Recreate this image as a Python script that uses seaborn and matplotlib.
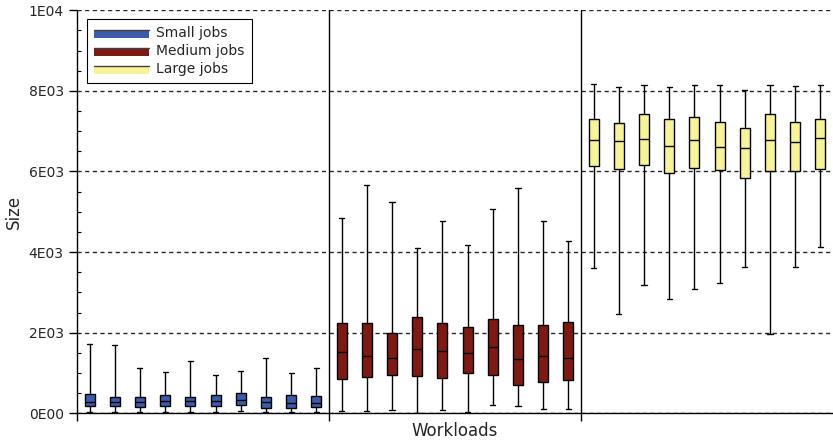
import numpy as np
import pandas as pd
import matplotlib
matplotlib.use("Agg")
import matplotlib.pyplot as plt
from matplotlib.ticker import FixedLocator, FuncFormatter
from matplotlib.legend_handler import HandlerBase
from matplotlib.patches import Rectangle
from matplotlib.lines import Line2D
import seaborn as sns

# Box statistics per workload: lower whisker, Q1, median, Q3, upper whisker
groups = ["Small jobs", "Medium jobs", "Large jobs"]
colors = ["#3b5bab", "#7e1a14", "#f6f39b"]

small_low = [25, 25, 25, 25, 25, 25, 50, 25, 25, 25]
small_q1 = [174, 174, 149, 174, 174, 181, 206, 140, 132, 165]
small_med = [288, 288, 288, 313, 313, 305, 330, 280, 263, 263]
small_q3 = [471, 412, 397, 461, 397, 447, 504, 397, 447, 422]
small_high = [1712, 1694, 1131, 1025, 1290, 943, 1049, 1365, 992, 1131]

medium_low = [65, 50, 82, 15, 82, 40, 214, 174, 99, 99]
medium_q1 = [859, 909, 943, 918, 876, 992, 950, 695, 777, 819]
medium_med = [1521, 1430, 1364, 1603, 1538, 1488, 1637, 1340, 1430, 1364]
medium_q3 = [2248, 2248, 1985, 2382, 2233, 2134, 2348, 2199, 2183, 2265]
medium_high = [4838, 5672, 5243, 4094, 4763, 4175, 5061, 5598, 4763, 4283]

large_low = [3613, 2471, 3191, 2843, 3076, 3241, 3638, 1967, 3622, 4118]
large_q1 = [6128, 6069, 6160, 5962, 6094, 6029, 5845, 6012, 6020, 6053]
large_med = [6773, 6756, 6798, 6624, 6781, 6607, 6575, 6781, 6723, 6823]
large_q3 = [7310, 7203, 7418, 7302, 7344, 7220, 7079, 7418, 7220, 7294]
large_high = [8162, 8096, 8153, 8088, 8153, 8153, 8029, 8137, 8121, 8137]

stats = [
    (small_low, small_q1, small_med, small_q3, small_high),
    (medium_low, medium_q1, medium_med, medium_q3, medium_high),
    (large_low, large_q1, large_med, large_q3, large_high),
]

# Five points per box reproduce min / quartiles / max exactly
rows = []
pos = 0
for name, cols in zip(groups, stats):
    for vals in zip(*cols):
        for v in vals:
            rows.append({"workload": pos, "size": v, "group": name})
        pos += 1
df = pd.DataFrame(rows)

sns.set_style("ticks")
plt.rcParams["font.family"] = ["DejaVu Sans"]

fig = plt.figure(figsize=(8.33, 4.43), dpi=100)
ax = fig.add_axes([0.0924, 0.067, 0.9076, 0.910])

sns.boxplot(
    data=df, x="workload", y="size", hue="group",
    hue_order=groups, palette=colors, saturation=1, width=0.4,
    whis=(0, 100), showfliers=False, linecolor="black",
    linewidth=1.0, legend=False, ax=ax, zorder=3,
)

ax.set_xlim(-0.5, 29.5)
ax.set_ylim(0, 10000)

# Group separators
for xb in (9.5, 19.5):
    ax.axvline(xb, color="black", lw=1.0, zorder=2)

ax.set_xticks([-0.5, 9.5, 19.5])
ax.set_xticklabels([])
ax.tick_params(axis="x", direction="out", length=6, width=1, color="black")

def sci_label(v, _):
    if v == 0:
        return "0E00"
    e = int(np.floor(np.log10(abs(v))))
    m = int(round(v / 10 ** e))
    return f"{m}E{e:02d}"

ax.yaxis.set_major_locator(FixedLocator(np.arange(0, 10001, 2000)))
ax.yaxis.set_minor_locator(FixedLocator(np.arange(0, 10001, 500)))
ax.yaxis.set_major_formatter(FuncFormatter(sci_label))
ax.tick_params(axis="y", which="major", direction="out", length=6, width=1,
               labelsize=10, color="black")
ax.tick_params(axis="y", which="minor", direction="in", length=3, width=0.8,
               color="black")

ax.yaxis.grid(True, which="major", color="0.15", lw=1.0,
              linestyle=(0, (3, 2.5)), zorder=1)
ax.set_axisbelow(True)

for s in ("top", "right"):
    ax.spines[s].set_visible(False)
for s in ("left", "bottom"):
    ax.spines[s].set_color("black")
    ax.spines[s].set_linewidth(1.0)

ax.set_xlabel("Workloads", fontsize=12, labelpad=-3)
ax.set_ylabel("Size", fontsize=12, labelpad=4)


class BarHandle(HandlerBase):
    def create_artists(self, legend, orig_handle, xdescent, ydescent,
                       width, height, fontsize, trans):
        rect = Rectangle((-xdescent, -ydescent), width, height * 0.62,
                         facecolor=orig_handle.get_facecolor(),
                         edgecolor="none", transform=trans)
        line = Line2D([-xdescent, width - xdescent],
                      [height * 0.70 - ydescent] * 2,
                      color="0.25", lw=1.0, transform=trans)
        return [rect, line]


handles = [Rectangle((0, 0), 1, 1, facecolor=c) for c in colors]
leg = ax.legend(handles, groups, loc="upper left",
                bbox_to_anchor=(0.013, 0.978), borderaxespad=0,
                handler_map={Rectangle: BarHandle()},
                fontsize=10, handlelength=4.0, handleheight=0.9,
                labelspacing=0.3, handletextpad=0.5, borderpad=0.5,
                fancybox=False, framealpha=1, edgecolor="black")
leg.get_frame().set_linewidth(0.8)

fig.savefig("out.png", dpi=100)
